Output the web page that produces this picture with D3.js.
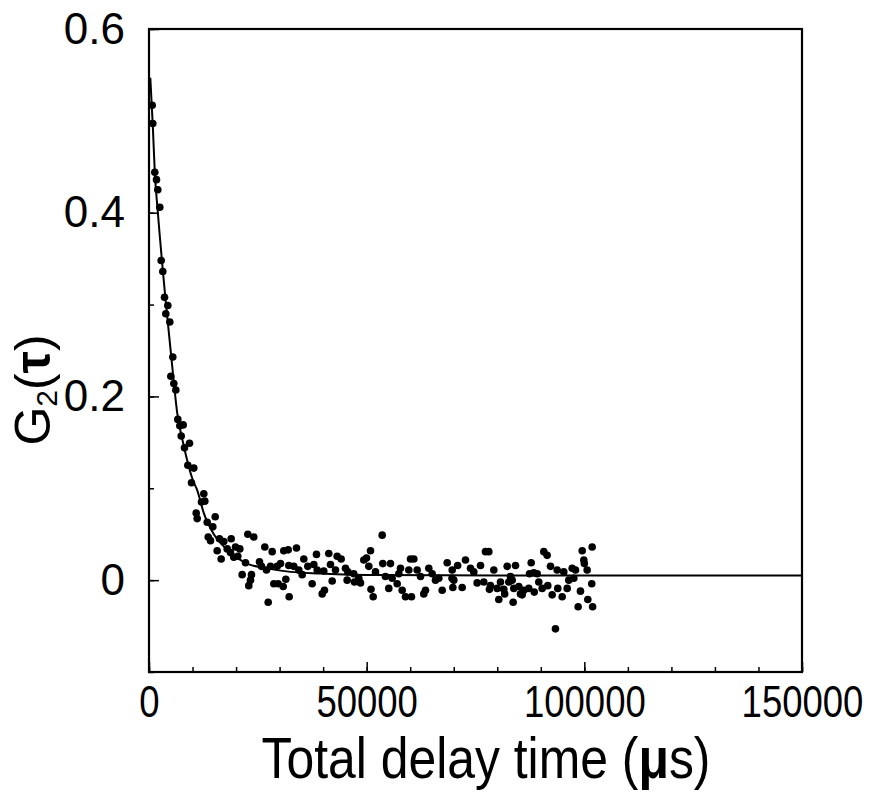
<!DOCTYPE html>
<html>
<head>
<meta charset="utf-8">
<script src="https://cdn.jsdelivr.net/npm/d3@7"></script>
<style>
  body { margin: 0; background: #fff; }
  svg text { font-family: "Liberation Sans", Arial, sans-serif; fill: #000; }
</style>
</head>
<body>
<div id="chart"></div>
<script>
const width = 869,
    height = 793,
    margin = { top: 29, bottom: 121, left: 149, right: 67 },
    radius = 3.8;

// measured points: delay time (µs) and G2 value
const delayTimes = [
    735, 873, 1330, 1720, 2020, 2480, 2800, 3170, 3560, 3860, 4320, 4780, 5010, 5470, 5700, 6160,
    6620, 7080, 7400, 7850, 8150, 8920, 9300, 9760, 10290, 10840, 11070, 12060, 12590, 12820, 13370, 13600,
    14130, 14660, 15210, 15660, 16190, 16580, 17180, 17960, 18720, 18880, 19480, 19870, 20400, 20860, 21400, 22170,
    22700, 22920, 23310, 23540, 24070, 25380, 25840, 26600, 26990, 27380, 27910, 28300, 28670, 29450, 29680, 30210,
    30830, 30960, 31430, 31970, 32110, 32200, 33260, 33880, 34410, 35190, 35560, 36480, 37480, 37860, 38470, 38630,
    39780, 40150, 40300, 41300, 41690, 42080, 42840, 43220, 44140, 45140, 45520, 45670, 47040, 47200, 48190, 48580,
    49340, 49960, 50490, 50880, 51000, 51500, 52030, 53570, 53700, 54320, 55080, 55470, 55860, 57010, 57380, 57770,
    58160, 58920, 59680, 60070, 60300, 60830, 61600, 62370, 63120, 63510, 64270, 65050, 65810, 66570, 67350, 68500,
    69600, 69650, 69800, 70020, 70900, 71940, 72700, 73850, 74610, 75380, 76150, 76900, 77290, 78060, 78200, 78440,
    79210, 79980, 80350, 80740, 81500, 81700, 82280, 82650, 83040, 83430, 83650, 83800, 84190, 84950, 85330, 85720,
    86100, 87240, 87410, 87790, 88390, 88500, 89170, 89540, 90320, 90690, 91460, 91600, 92230, 92610, 93370, 93760,
    93900, 94910, 95280, 96060, 96430, 97210, 97580, 97970, 98580, 99110, 99510, 99880, 100000, 100650, 100800, 101800,
    101700, 101900
];
const g2Values = [
    0.517, 0.497, 0.444, 0.436, 0.425, 0.406, 0.348, 0.336, 0.308, 0.290, 0.299, 0.281, 0.222, 0.243, 0.214, 0.207,
    0.175, 0.168, 0.157, 0.169, 0.144, 0.125, 0.149, 0.106, 0.122, 0.073, 0.067, 0.085, 0.094, 0.086, 0.063, 0.047,
    0.043, 0.058, 0.069, 0.032, 0.045, 0.023, 0.042, 0.034, 0.030, 0.045, 0.025, 0.036, 0.026, 0.034, 0.006, 0.019,
    0.050, -0.006, 0.000, 0.006, 0.047, 0.020, 0.015, 0.036, 0.011, -0.024, 0.015, 0.031, -0.004, 0.015, -0.004, 0.018,
    -0.007, 0.032, 0.001, 0.033, 0.016, -0.018, 0.015, 0.035, 0.011, 0.006, 0.023, 0.015, -0.004, 0.017, 0.028, 0.011,
    -0.015, 0.010, -0.011, 0.029, 0.017, -0.001, 0.011, 0.026, 0.023, 0.013, 0.000, 0.009, 0.007, -0.002, 0.002, -0.003,
    0.022, 0.024, 0.015, 0.032, -0.010, -0.018, 0.009, 0.049, 0.018, 0.004, -0.009, 0.018, 0.002, -0.004, 0.007, 0.013,
    -0.011, -0.018, 0.011, 0.023, -0.018, 0.023, 0.011, 0.004, -0.015, -0.011, 0.013, 0.007, 0.000, 0.002, -0.011, 0.019,
    0.002, 0.011, -0.008, 0.000, 0.016, -0.008, 0.022, 0.013, 0.009, -0.003, 0.016, -0.002, 0.031, 0.031, -0.010, -0.006,
    0.011, -0.009, -0.021, -0.002, -0.010, -0.015, 0.015, -0.002, 0.004, 0.000, -0.024, -0.009, 0.016, -0.007, -0.015, -0.016,
    -0.011, -0.009, 0.007, 0.019, 0.008, -0.013, 0.007, -0.002, -0.009, 0.031, 0.027, -0.006, 0.015, -0.016, -0.053, 0.011,
    -0.009, -0.018, 0.009, -0.009, 0.000, 0.013, 0.002, 0.011, -0.029, -0.012, 0.032, 0.022, 0.018, 0.011, -0.021, 0.036,
    -0.004, -0.029
];

// fitted curve
const fitTimes = [300, 870, 1330, 2020, 3790, 5330, 6480, 7860, 10060, 11070, 12590, 14520, 17960, 22560, 27150, 32500, 39390, 53170, 80740, 149900];
const fitValues = [0.547, 0.495, 0.444, 0.401, 0.306, 0.233, 0.182, 0.149, 0.109, 0.098, 0.073, 0.053, 0.033, 0.018, 0.0128, 0.009, 0.0073, 0.0055, 0.005, 0.005];

const xMajorTicks = [0, 50000, 100000, 150000];
const xMinorTicks = d3.range(0, 150001, 10000);
const yMajorTicks = [0, 0.2, 0.4, 0.6];
const yMinorTicks = [-0.1, 0, 0.1, 0.2, 0.3, 0.4, 0.5, 0.6];

const points = delayTimes.map((t, i) => ({ t: t, g: g2Values[i] }));
const fit = fitTimes.map((t, i) => ({ t: t, g: fitValues[i] }));

const xScale = d3.scaleLinear()
    .domain([0, 150000])
    .range([margin.left, width - margin.right]);

const yScale = d3.scaleLinear()
    .domain([-0.1, 0.6])
    .range([height - margin.bottom, margin.top]);

const svg = d3.select("#chart")
    .append("svg")
    .attr("width", width)
    .attr("height", height);

// minor ticks (inward)
svg.append("g")
    .attr("transform", `translate(0, ${height - margin.bottom})`)
    .call(d3.axisBottom(xScale).tickValues(xMinorTicks).tickSize(-5).tickFormat(""))
    .call(g => g.select(".domain").remove())
    .call(g => g.selectAll("line").attr("stroke-width", 1.5));

svg.append("g")
    .attr("transform", `translate(${margin.left}, 0)`)
    .call(d3.axisLeft(yScale).tickValues(yMinorTicks).tickSize(-5).tickFormat(""))
    .call(g => g.select(".domain").remove())
    .call(g => g.selectAll("line").attr("stroke-width", 1.5));

// major ticks + labels (the original face is narrow, so squeeze x labels)
svg.append("g")
    .attr("class", "xAxis")
    .attr("transform", `translate(0, ${height - margin.bottom})`)
    .call(d3.axisBottom(xScale).tickValues(xMajorTicks).tickSize(-10).tickPadding(14).tickFormat(d3.format("d")))
    .call(g => g.select(".domain").remove())
    .call(g => g.selectAll("line").attr("stroke-width", 1.5))
    .call(g => g.selectAll("text")
        .attr("font-size", 44)
        .attr("font-family", null)
        .attr("transform", "scale(0.83,1)"));

svg.append("g")
    .attr("class", "yAxis")
    .attr("transform", `translate(${margin.left}, 0)`)
    .call(d3.axisLeft(yScale).tickValues(yMajorTicks).tickSize(-10).tickPadding(24).tickFormat(d => d === 0 ? "0" : d3.format(".1f")(d)))
    .call(g => g.select(".domain").remove())
    .call(g => g.selectAll("line").attr("stroke-width", 1.5))
    .call(g => g.selectAll("text").attr("font-size", 44).attr("font-family", null));

// frame
svg.append("rect")
    .attr("x", margin.left)
    .attr("y", margin.top)
    .attr("width", width - margin.left - margin.right)
    .attr("height", height - margin.top - margin.bottom)
    .attr("fill", "none")
    .attr("stroke", "#000")
    .attr("stroke-width", 2.2);

// fit line
const line = d3.line()
    .x(d => xScale(d.t))
    .y(d => yScale(d.g))
    .curve(d3.curveMonotoneX);

svg.append("path")
    .datum(fit)
    .attr("d", line)
    .attr("fill", "none")
    .attr("stroke", "#000")
    .attr("stroke-width", 2);

// data points
svg.selectAll(".dot")
    .data(points)
    .join("circle")
    .attr("class", "dot")
    .attr("cx", d => xScale(d.t))
    .attr("cy", d => yScale(d.g))
    .attr("r", radius)
    .attr("fill", "#000");

// axis titles
svg.append("text")
    .attr("transform", "translate(486, 778) scale(0.86,1)")
    .attr("text-anchor", "middle")
    .attr("font-size", 58)
    .html('Total delay time (<tspan font-weight="bold">μ</tspan>s)');

const yTitle = svg.append("text")
    .attr("transform", `translate(50, 390) rotate(-90)`)
    .attr("text-anchor", "middle")
    .attr("font-size", 50);
yTitle.append("tspan").text("G");
yTitle.append("tspan").attr("font-size", 30).attr("dy", 7).text("2");
yTitle.append("tspan").attr("dy", -7).text("(");
yTitle.append("tspan").attr("font-weight", "bold").text("τ");
yTitle.append("tspan").text(")");
</script>
</body>
</html>
